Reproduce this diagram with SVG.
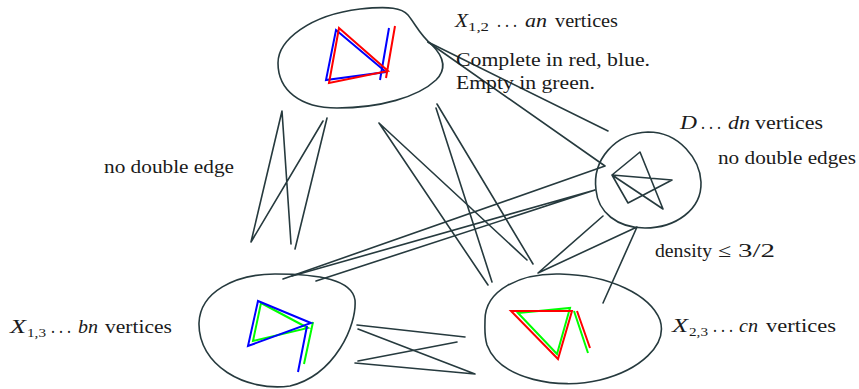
<svg xmlns="http://www.w3.org/2000/svg" width="859" height="389" viewBox="0 0 859 389">
<style>
.k{fill:none;stroke:#263a3e;stroke-width:1.6;stroke-linecap:round;stroke-linejoin:round}
.r{fill:none;stroke:#ff0000;stroke-width:2}
.b{fill:none;stroke:#0000ff;stroke-width:2}
.g{fill:none;stroke:#00ff00;stroke-width:2}
.t{font-family:'Liberation Serif','Times New Roman',serif;font-size:19px;fill:#1a1a1a}
.i{font-style:italic}
.s{font-size:13px}
</style>
<rect width="859" height="389" fill="#ffffff"/>
<g id="X12">
<path class="k" d="M 278,63 C 278,40 310,15 360,9 C 390,6 402,8 408,15 C 416,25 420,35 432,45 C 445,58 446,70 436,80 C 418,97 380,108 337,108 C 300,108 278,90 278,63 Z"/>
<path class="b" d="M 336,30 L 386,72 L 326,80 Z M 389,28 L 380,80"/>
<path class="r" d="M 339,28 L 388,71 L 329,83 Z M 395,26 L 386,78"/>
</g>
<g id="D">
<path class="k" d="M 596,190 C 592,160 615,133 648,132 C 680,132 700,160 701,182 C 702,210 675,228 645,228 C 617,228 598,212 596,190 Z"/>
<path class="k" d="M 663,209 L 640,152 L 612,175 L 672,180 L 628,203 L 612,175 L 663,209"/>
</g>
<g id="X13">
<path class="k" d="M 199,323 C 200,292 235,274 275,274 C 320,274 352,280 355,300 C 357,325 335,375 290,386 C 245,392 198,365 199,323 Z"/>
<path class="g" d="M 261,303 L 308,328 L 253,341 Z M 313,322 L 304,364"/>
<path class="b" d="M 258,301 L 311,323 L 248,346 Z M 307,326 L 298,372"/>
</g>
<g id="X23">
<path class="k" d="M 485,320 C 485,290 520,273 560,274 C 610,275 650,295 660,320 C 668,345 640,370 600,380 C 560,390 500,380 487,345 C 484,335 485,328 485,320 Z"/>
<path class="g" d="M 518,313 L 570,308 L 557,354 Z M 574,311 L 588,353"/>
<path class="r" d="M 511,311 L 572,311 L 558,359 Z M 577,311 L 590,348"/>
</g>
<g id="connectors">
<path class="k" d="M 291,244 L 282,111 L 251,242 L 323,121"/>
<path class="k" d="M 327,118 L 295,249"/>
<path class="k" d="M 488,285 L 379,123 L 527,260"/>
<path class="k" d="M 533,264 L 437,104"/>
<path class="k" d="M 492,282 L 436,108"/>
<path class="k" d="M 428,42 L 608,131"/>
<path class="k" d="M 428,42 L 605,166 L 283,279"/>
<path class="k" d="M 292,276 L 595,190 L 316,281"/>
<path class="k" d="M 603,216 L 538,273 L 637,227 L 603,303"/>
<path class="k" d="M 357,325 L 465,337"/>
<path class="k" d="M 358,329 L 475,374 L 355,363"/>
<path class="k" d="M 358,361 L 457,342"/>
</g>
<g id="labels">
<text class="t i" x="455" y="27" textLength="13" lengthAdjust="spacingAndGlyphs">X</text>
<text class="t s" x="468" y="31" textLength="21" lengthAdjust="spacingAndGlyphs">1,2</text>
<text class="t" x="497" y="27" textLength="20" lengthAdjust="spacingAndGlyphs">. . .</text>
<text class="t i" x="525" y="27" textLength="22" lengthAdjust="spacingAndGlyphs">an</text>
<text class="t" x="555" y="27" textLength="63" lengthAdjust="spacingAndGlyphs">vertices</text>
<text class="t" x="456" y="66" textLength="194" lengthAdjust="spacingAndGlyphs">Complete in red, blue.</text>
<text class="t" x="456" y="89" textLength="139" lengthAdjust="spacingAndGlyphs">Empty in green.</text>
<text class="t i" x="680" y="129" textLength="17" lengthAdjust="spacingAndGlyphs">D</text>
<text class="t" x="701" y="129" textLength="20" lengthAdjust="spacingAndGlyphs">. . .</text>
<text class="t i" x="728" y="129" textLength="22" lengthAdjust="spacingAndGlyphs">dn</text>
<text class="t" x="755" y="129" textLength="68" lengthAdjust="spacingAndGlyphs">vertices</text>
<text class="t" x="718" y="164" textLength="138" lengthAdjust="spacingAndGlyphs">no double edges</text>
<text class="t" x="104" y="173" textLength="130" lengthAdjust="spacingAndGlyphs">no double edge</text>
<text class="t" x="655" y="257" textLength="57" lengthAdjust="spacingAndGlyphs">density</text>
<text class="t" x="718" y="257" textLength="13" lengthAdjust="spacingAndGlyphs">≤</text>
<text class="t" x="738" y="257" textLength="37" lengthAdjust="spacingAndGlyphs">3/2</text>
<text class="t i" x="10" y="333" textLength="16" lengthAdjust="spacingAndGlyphs">X</text>
<text class="t s" x="27" y="337" textLength="19" lengthAdjust="spacingAndGlyphs">1,3</text>
<text class="t" x="51" y="333" textLength="20" lengthAdjust="spacingAndGlyphs">. . .</text>
<text class="t i" x="78" y="333" textLength="20" lengthAdjust="spacingAndGlyphs">bn</text>
<text class="t" x="105" y="333" textLength="67" lengthAdjust="spacingAndGlyphs">vertices</text>
<text class="t i" x="672" y="332" textLength="16" lengthAdjust="spacingAndGlyphs">X</text>
<text class="t s" x="689" y="336" textLength="19" lengthAdjust="spacingAndGlyphs">2,3</text>
<text class="t" x="713" y="332" textLength="20" lengthAdjust="spacingAndGlyphs">. . .</text>
<text class="t i" x="739" y="332" textLength="19" lengthAdjust="spacingAndGlyphs">cn</text>
<text class="t" x="766" y="332" textLength="70" lengthAdjust="spacingAndGlyphs">vertices</text>
</g>
</svg>
